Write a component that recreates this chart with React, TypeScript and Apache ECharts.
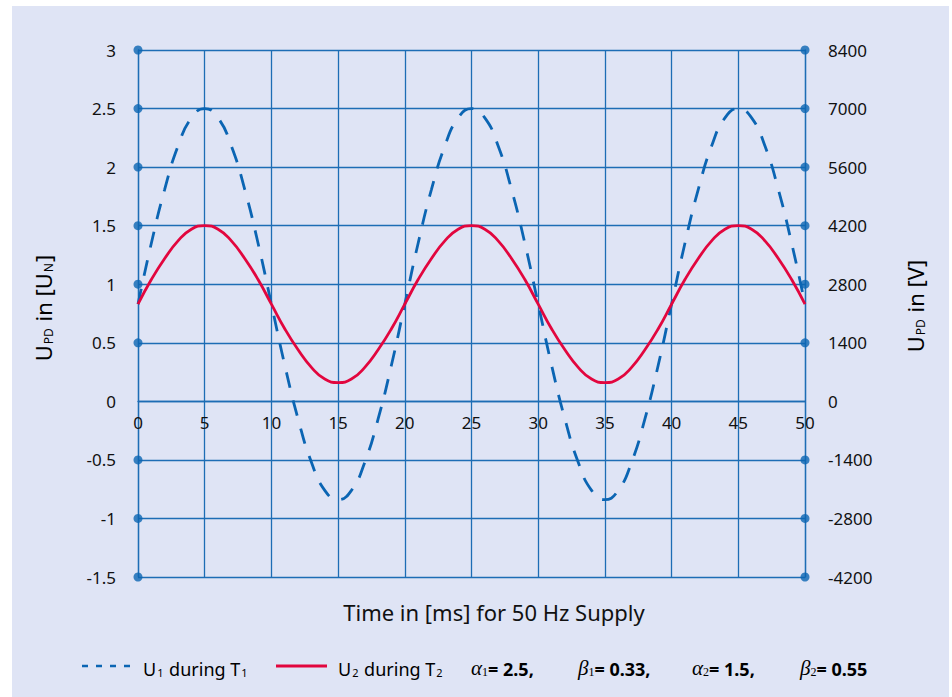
import React, { useEffect, useRef } from "react";
import * as echarts from "echarts";

const timeMs = [0, 1, 2, 3, 4, 5, 6, 7, 8, 9, 10, 11, 12, 13, 14, 15, 16, 17, 18, 19, 20, 21, 22, 23, 24, 25, 26, 27, 28, 29, 30, 31, 32, 33, 34, 35, 36, 37, 38, 39, 40, 41, 42, 43, 44, 45, 46, 47, 48, 49, 50];
const u1Values = [
  0.83, 1.35, 1.81, 2.18, 2.42, 2.5, 2.42, 2.18, 1.81, 1.35,
  0.83, 0.31, -0.15, -0.52, -0.76, -0.84, -0.76, -0.52, -0.15, 0.31,
  0.83, 1.35, 1.81, 2.18, 2.42, 2.5, 2.42, 2.18, 1.81, 1.35,
  0.83, 0.31, -0.15, -0.52, -0.76, -0.84, -0.76, -0.52, -0.15, 0.31,
  0.83, 1.35, 1.81, 2.18, 2.42, 2.5, 2.42, 2.18, 1.81, 1.35,
  0.83,
];
const u2Values = [
  0.83, 1.04, 1.22, 1.37, 1.47, 1.5, 1.47, 1.37, 1.22, 1.04,
  0.83, 0.62, 0.44, 0.29, 0.19, 0.16, 0.19, 0.29, 0.44, 0.62,
  0.83, 1.04, 1.22, 1.37, 1.47, 1.5, 1.47, 1.37, 1.22, 1.04,
  0.83, 0.62, 0.44, 0.29, 0.19, 0.16, 0.19, 0.29, 0.44, 0.62,
  0.83, 1.04, 1.22, 1.37, 1.47, 1.5, 1.47, 1.37, 1.22, 1.04,
  0.83,
];
const xTicks = [0, 5, 10, 15, 20, 25, 30, 35, 40, 45, 50];
const leftTicks = [-1.5, -1, -0.5, 0, 0.5, 1, 1.5, 2, 2.5, 3];
const rightTicks = [-4200, -2800, -1400, 0, 1400, 2800, 4200, 5600, 7000, 8400];
const seriesNames = ["U1 during T1", "U2 during T2"];
const paramSymbols = ["α", "β", "α", "β"];
const paramSubs = ["1", "1", "2", "2"];
const paramValues = ["2.5,", "0.33,", "1.5,", "0.55"];

const BLUE = "#0b65b3";
const GRID = "#1d6db5";
const RED = "#e2063e";
const FONT = "Noto Sans";

const GRID_TOP = 50;
const GRID_BOTTOM = 120;
const CHART_H = 697;

export default function App() {
  const ref = useRef<HTMLDivElement>(null);
  useEffect(() => {
    document.body.style.margin = "0";
    const chart = echarts.init(ref.current!, null, { renderer: "svg" });
    const u1 = timeMs.map((t, i) => [t, u1Values[i]]);
    const u2 = timeMs.map((t, i) => [t, u2Values[i]]);
    const dotVals = leftTicks.filter((v) => v !== 0);
    const dotsLeft = dotVals.map((v) => [xTicks[0], v]);
    const dotsRight = dotVals.map((v) => [xTicks[xTicks.length - 1], v]);

    const yMin = leftTicks[0];
    const yMax = leftTicks[leftTicks.length - 1];
    const plotH = CHART_H - GRID_TOP - GRID_BOTTOM;
    // move the x axis (line + labels) up to the y = 0 level
    const zeroOffset = -((0 - yMin) / (yMax - yMin)) * plotH;

    const mainRich = {
      m: { fontFamily: FONT, fontSize: 18, color: "#111", lineHeight: 24, verticalAlign: "bottom" as const },
      s: { fontFamily: FONT, fontSize: 11, color: "#111", lineHeight: 12, verticalAlign: "bottom" as const, padding: [0, 1, 0, 1] },
      g: { fontFamily: "Liberation Serif", fontStyle: "italic", fontSize: 21, color: "#222", lineHeight: 24, verticalAlign: "bottom" as const },
      gs: { fontFamily: "Liberation Serif", fontSize: 12, color: "#222", lineHeight: 12, verticalAlign: "bottom" as const },
      v: { fontFamily: FONT, fontWeight: "bold", fontSize: 18, color: "#111", lineHeight: 24, verticalAlign: "bottom" as const },
    };
    const nameRich = {
      m: { fontFamily: FONT, fontSize: 22, color: "#111", lineHeight: 28, verticalAlign: "bottom" as const },
      s: { fontFamily: FONT, fontSize: 12, color: "#111", lineHeight: 12, verticalAlign: "bottom" as const, padding: [0, 1, 0, 1] },
    };
    const subText = (name: string) => {
      const parts = name.split(" ");
      const a = parts[0];
      const b = parts[2];
      return `{m|${a[0]}}{s|${a.slice(1)}}{m| ${parts[1]} ${b[0]}}{s|${b.slice(1)}}`;
    };
    const legY = 666;
    const paramX = [471, 578, 692, 800];
    const txt = (extra: any) => ({ align: "left", verticalAlign: "middle", textAlign: "left", textVerticalAlign: "middle", ...extra });

    const graphic: any[] = [
      { type: "line", shape: { x1: 82, y1: legY, x2: 132, y2: legY }, style: { stroke: BLUE, lineWidth: 2.5, lineDash: [6, 8] } },
      { type: "text", x: 143, y: legY, style: txt({ text: subText(seriesNames[0]), rich: mainRich }) },
      { type: "line", shape: { x1: 276, y1: legY, x2: 327, y2: legY }, style: { stroke: RED, lineWidth: 2.8 } },
      { type: "text", x: 338, y: legY, style: txt({ text: subText(seriesNames[1]), rich: mainRich }) },
      ...paramSymbols.map((s, i) => ({
        type: "text",
        x: paramX[i],
        y: legY,
        style: txt({ text: `{g|${s}}{gs|${paramSubs[i]}}{v|= ${paramValues[i]}}`, rich: mainRich }),
      })),
      { type: "text", x: 494, y: 612, style: { text: "Time in [ms] for 50 Hz Supply", fontFamily: FONT, fontSize: 22, fill: "#111", align: "center", verticalAlign: "middle", textAlign: "center", textVerticalAlign: "middle" } },
      { type: "text", x: 40, y: 308, rotation: Math.PI / 2, style: { text: "{m|U}{s|PD}{m| in [U}{s|N}{m|]}", rich: nameRich, align: "center", verticalAlign: "middle", textAlign: "center", textVerticalAlign: "middle" } },
      { type: "text", x: 912, y: 306, rotation: Math.PI / 2, style: { text: "{m|U}{s|PD}{m| in [V]}", rich: nameRich, align: "center", verticalAlign: "middle", textAlign: "center", textVerticalAlign: "middle" } },
    ];

    chart.setOption({
      animation: false,
      backgroundColor: "transparent",
      grid: { left: 138, right: 147, top: GRID_TOP, bottom: GRID_BOTTOM },
      xAxis: {
        type: "value",
        position: "bottom",
        offset: zeroOffset,
        min: xTicks[0],
        max: xTicks[xTicks.length - 1],
        interval: xTicks[1] - xTicks[0],
        axisLine: { show: true, onZero: false, lineStyle: { color: GRID, width: 1.3 } },
        axisTick: { show: false },
        axisLabel: { fontFamily: FONT, fontSize: 17, color: "#111", margin: 13 },
        splitLine: { show: true, lineStyle: { color: GRID, width: 1.3 } },
      },
      yAxis: [
        {
          type: "value",
          min: yMin,
          max: yMax,
          interval: leftTicks[1] - leftTicks[0],
          axisLine: { show: true, onZero: false, lineStyle: { color: GRID, width: 1.3 } },
          axisTick: { show: false },
          axisLabel: { fontFamily: FONT, fontSize: 17, color: "#111", margin: 22, formatter: (v: number) => String(v) },
          splitLine: { show: true, lineStyle: { color: GRID, width: 1.3 } },
        },
        {
          type: "value",
          position: "right",
          min: rightTicks[0],
          max: rightTicks[rightTicks.length - 1],
          interval: rightTicks[1] - rightTicks[0],
          axisLine: { show: true, onZero: false, lineStyle: { color: GRID, width: 1.3 } },
          axisTick: { show: false },
          axisLabel: { fontFamily: FONT, fontSize: 17, color: "#111", margin: 23, formatter: (v: number) => String(v) },
          splitLine: { show: false },
        },
      ],
      series: [
        { name: seriesNames[0], type: "line", data: u1, smooth: true, showSymbol: false, yAxisIndex: 0, lineStyle: { color: BLUE, width: 2.8, type: [16, 13] }, z: 3 },
        { name: seriesNames[1], type: "line", data: u2, smooth: true, showSymbol: false, yAxisIndex: 0, lineStyle: { color: RED, width: 2.8 }, z: 4 },
        { type: "scatter", data: dotsLeft, symbolSize: 9, itemStyle: { color: BLUE }, yAxisIndex: 0, z: 5, silent: true },
        { type: "scatter", data: dotsRight, symbolSize: 9, itemStyle: { color: BLUE }, yAxisIndex: 0, z: 5, silent: true },
      ],
      graphic,
    });
    return () => chart.dispose();
  }, []);
  return (
    <div style={{ position: "relative", width: 952, height: 697, background: "#fff", overflow: "hidden" }}>
      <div style={{ position: "absolute", left: 12, top: 6, width: 937, height: 691, background: "#dfe4f5" }} />
      <div ref={ref} style={{ position: "absolute", left: 0, top: 0, width: 952, height: 697 }} />
    </div>
  );
}
